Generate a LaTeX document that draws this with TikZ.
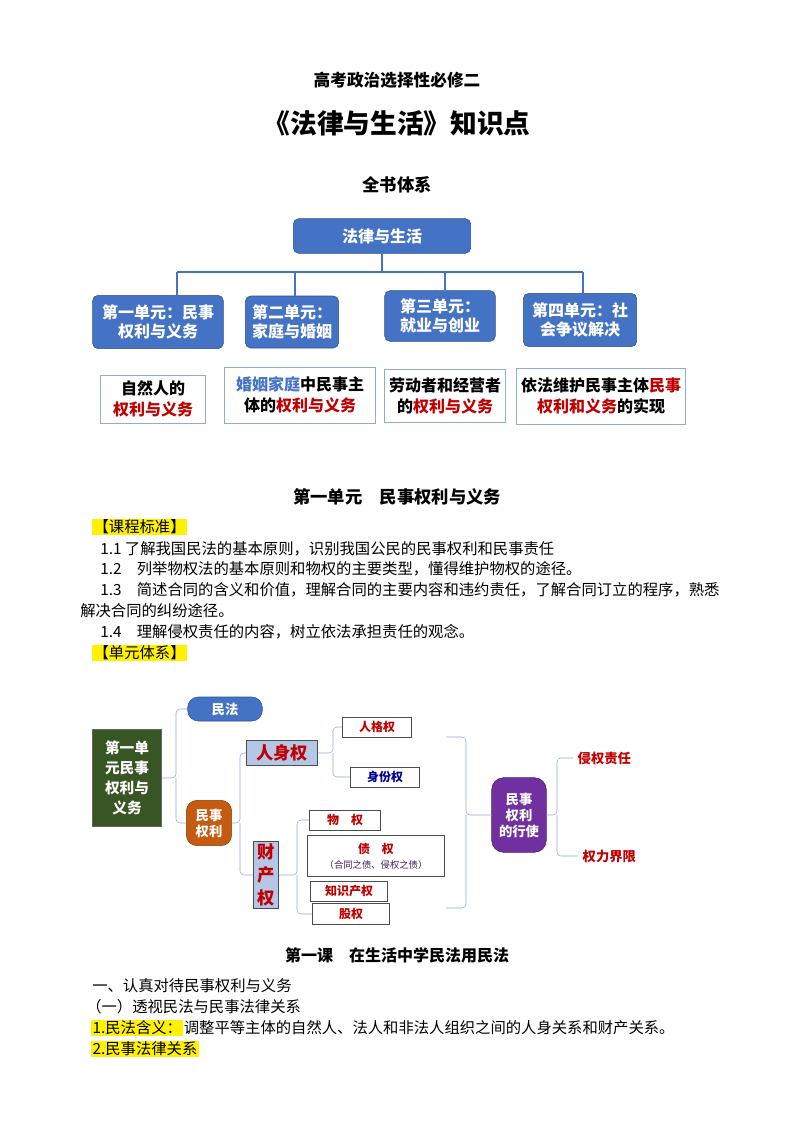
\documentclass[tikz,border=0pt]{standalone}
\usepackage{fontspec}
\setmainfont{Noto Sans CJK SC}
\usetikzlibrary{positioning}
\definecolor{unitblue}{HTML}{4472C4}
\definecolor{darkred}{HTML}{C00000}
\definecolor{treegreen}{HTML}{375623}
\definecolor{rustorange}{HTML}{C55A11}
\definecolor{paleblue}{HTML}{B4C7E7}
\definecolor{royalpurple}{HTML}{7030A0}
\definecolor{linkblue}{HTML}{8FAADC}
\tikzset{
  bluebox/.style={draw=unitblue!70!black, fill=unitblue, rounded corners=4pt, text=white, font=\bfseries\fontsize{12}{14}\selectfont, align=center, inner sep=2pt},
  outcome/.style={draw=linkblue, fill=white, align=center, font=\bfseries\fontsize{12}{16}\selectfont, inner sep=2pt},
  bodytext/.style={anchor=west, inner sep=0pt, font=\fontsize{11.5}{13}\selectfont},
  marker/.style={anchor=west, fill=yellow, inner sep=1pt, font=\fontsize{11.5}{13}\selectfont},
  redbox/.style={draw=black!70, fill=white, text=darkred, font=\bfseries\fontsize{9}{11}\selectfont, inner sep=2pt},
  brk/.style={draw=linkblue, rounded corners=3pt, thin},
  tree/.style={draw=unitblue, thick}
}
\begin{document}
\begin{tikzpicture}[x=0.75pt, y=-0.75pt]
  \useasboundingbox (0,0) rectangle (794,1123);

  % Titles
  \node[font=\bfseries\fontsize{12.5}{14}\selectfont] (ttlA) at (397,80) {高考政治选择性必修二};
  \node[font=\bfseries\fontsize{20}{24}\selectfont] (ttlB) at (397,123) {《法律与生活》知识点};
  \node[font=\bfseries\fontsize{13}{15}\selectfont] (ttlC) at (397,185) {全书体系};

  % Book tree
  \node[bluebox, minimum width=133pt, minimum height=26pt] (book) at (382,236) {法律与生活};
  \node[bluebox, minimum width=98pt, minimum height=40pt] (unitA) at (158,322) {第一单元：民事\\权利与义务};
  \node[bluebox, minimum width=70pt, minimum height=39pt] (unitB) at (292,322) {第二单元：\\家庭与婚姻};
  \node[bluebox, minimum width=83pt, minimum height=38pt] (unitC) at (440,316) {第三单元：\\就业与创业};
  \node[bluebox, minimum width=85pt, minimum height=40pt] (unitD) at (580,320) {第四单元：社\\会争议解决};
  \draw[tree] (book.south) -- (382,272);
  \draw[tree] (177,272) -- (583,272);
  \foreach \u/\x in {unitA/177, unitB/295, unitC/445, unitD/583} {
    \draw[tree] (\x,272) -- (\x,0 |- \u.north);
  }
  \node[outcome, minimum width=79pt, minimum height=36pt] (resA) at (153,399) {自然人的\\\textcolor{darkred}{权利与义务}};
  \node[outcome, minimum width=113pt, minimum height=42pt] (resB) at (300,395) {\textcolor{unitblue}{婚姻家庭}中民事主\\体的\textcolor{darkred}{权利与义务}};
  \node[outcome, minimum width=91pt, minimum height=40pt] (resC) at (445,396) {劳动者和经营者\\的\textcolor{darkred}{权利与义务}};
  \node[outcome, minimum width=127pt, minimum height=42pt] (resD) at (601,396) {依法维护民事主体\textcolor{darkred}{民事}\\\textcolor{darkred}{权利和义务}的实现};

  % Unit one
  \node[font=\bfseries\fontsize{13}{15}\selectfont] (secA) at (397,497) {第一单元\quad 民事权利与义务};
  \node[marker] (stdA) at (92,527) {【课程标准】};
  \node[bodytext] (lnA) at (100,549) {1.1 了解我国民法的基本原则，识别我国公民的民事权利和民事责任};
  \node[bodytext] (lnB) at (100,569) {1.2\quad 列举物权法的基本原则和物权的主要类型，懂得维护物权的途径。};
  \node[bodytext] (lnC) at (100,590) {1.3\quad 简述合同的含义和价值，理解合同的主要内容和违约责任，了解合同订立的程序，熟悉};
  \node[bodytext] (lnD) at (80,611) {解决合同的纠纷途径。};
  \node[bodytext] (lnE) at (100,632) {1.4\quad 理解侵权责任的内容，树立依法承担责任的观念。};
  \node[marker] (stdB) at (92,653) {【单元体系】};

  % Unit diagram
  \node[draw=black!60, fill=treegreen, text=white, font=\bfseries\fontsize{11}{15}\selectfont, align=center, minimum width=52pt, minimum height=73pt, inner sep=1pt] (uOne) at (127,778) {第一单\\元民事\\权利与\\义务};
  \node[fill=unitblue, draw=unitblue!70!black, rounded corners=8pt, text=white, font=\bfseries\fontsize{10}{12}\selectfont, minimum width=56pt, minimum height=18pt] (civLaw) at (225,709) {民法};
  \node[fill=rustorange, draw=rustorange!70!black, rounded corners=8pt, text=white, font=\bfseries\fontsize{10}{12}\selectfont, align=center, minimum width=34pt, minimum height=34pt, inner sep=1pt] (civRight) at (209,823) {民事\\权利};
  \node[draw=black!70, fill=paleblue, text=darkred, font=\bfseries\fontsize{13}{15}\selectfont, minimum width=53pt, minimum height=19pt, inner sep=1pt] (persRight) at (282,753) {人身权};
  \node[draw=black!70, fill=paleblue, text=darkred, font=\bfseries\fontsize{13}{17}\selectfont, align=center, minimum width=19pt, minimum height=50pt, inner sep=1pt] (propRight) at (266,875) {财\\产\\权};
  \node[redbox, minimum width=52pt, minimum height=15pt] (dignity) at (377,727) {人格权};
  \node[redbox, text=blue!60!black, minimum width=52pt, minimum height=15pt] (status) at (385,777) {身份权};
  \node[redbox, minimum width=53pt, minimum height=15pt] (realRight) at (345,820) {物\quad 权};
  \node[redbox, align=center, minimum width=103pt, minimum height=31pt] (debt) at (376,856) {债\quad 权\\{\mdseries\fontsize{7}{9}\selectfont\color{royalpurple!60!black}（合同之债、侵权之债）}};
  \node[redbox, minimum width=58pt, minimum height=15pt] (ipRight) at (349,891) {知识产权};
  \node[redbox, minimum width=58pt, minimum height=16pt] (equity) at (351,914) {股权};
  \node[fill=royalpurple, draw=royalpurple!70!black, rounded corners=9pt, text=white, font=\bfseries\fontsize{10}{12}\selectfont, align=center, minimum width=41pt, minimum height=56pt, inner sep=1pt] (exercise) at (519,815) {民事\\权利\\的行使};
  \node[text=darkred, font=\bfseries\fontsize{10}{12}\selectfont, anchor=west] (tort) at (573,758) {侵权责任};
  \node[text=darkred, font=\bfseries\fontsize{10}{12}\selectfont, anchor=west] (limit) at (578,856) {权力界限};

  \draw[brk] (uOne.east) -- (176,778) |- (civLaw.west);
  \draw[brk] (176,778) |- (civRight.west);
  \draw[brk] (civRight.east) -- (240,823) |- (persRight.west);
  \draw[brk] (240,823) |- (propRight.west);
  \draw[brk] (persRight.east) -- (333,753) |- (dignity.west);
  \draw[brk] (333,753) |- (status.west);
  \draw[brk] (propRight.east) -- (297,875) |- (realRight.west);
  \draw[brk] (297,875) |- (equity.west);
  \draw[brk] (exercise.west) -- (466,815) |- (446,737);
  \draw[brk] (466,815) |- (446,908);
  \draw[brk] (exercise.east) -- (557,815) |- (tort.west);
  \draw[brk] (557,815) |- (limit.west);

  % Lesson one
  \node[font=\bfseries\fontsize{12}{14}\selectfont] (lesA) at (397,955) {第一课\quad 在生活中学民法用民法};
  \node[bodytext] (ptA) at (92,986) {一、认真对待民事权利与义务};
  \node[bodytext] (ptB) at (86,1007) {（一）透视民法与民事法律关系};
  \node[marker] (ptC) at (91,1028) {1.民法含义：};
  \node[bodytext, right=0pt of ptC] (ptD) {调整平等主体的自然人、法人和非法人组织之间的人身关系和财产关系。};
  \node[marker] (ptE) at (91,1049) {2.民事法律关系};
\end{tikzpicture}
\end{document}
